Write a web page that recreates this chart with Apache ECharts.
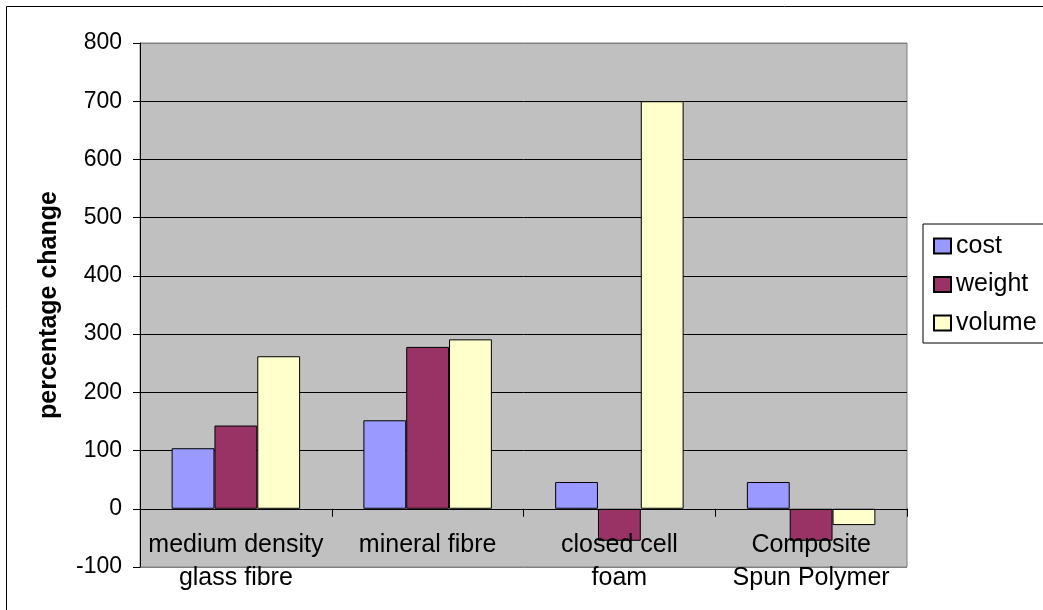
<!DOCTYPE html>
<html>
<head>
<meta charset="utf-8">
<script src="https://cdn.jsdelivr.net/npm/echarts@6/dist/echarts.min.js"></script>
<style>
  html, body { margin: 0; padding: 0; background: #fff; }
  #chart { width: 1043px; height: 610px; }
</style>
</head>
<body>
<div id="chart"></div>
<script>
// Insulation materials compared by percentage change
const categories = ['medium density\nglass fibre', 'mineral fibre', 'closed cell\nfoam', 'Composite\nSpun Polymer'];
const costValues = [104, 152, 46, 46];
const weightValues = [143, 278, -55, -55];
const volumeValues = [262, 291, 700, -28];
const yTicks = { min: -100, max: 800, interval: 100 };

const FONT = 'Liberation Sans, Arial, sans-serif';
const barBorder = { borderColor: '#000', borderWidth: 1 };

// gridline colours: outer edges grey, inner lines black
const gridColours = [];
for (let v = yTicks.min; v <= yTicks.max; v += yTicks.interval) {
  gridColours.push(v === yTicks.min || v === yTicks.max ? '#808080' : '#000');
}

const chart = echarts.init(document.getElementById('chart'), null, { renderer: 'canvas' });
chart.setOption({
  animation: false,
  backgroundColor: '#fff',
  textStyle: { fontFamily: FONT },
  graphic: [{
    type: 'rect',
    shape: { x: 6.5, y: 6.5, width: 1100, height: 700 },
    style: { fill: 'none', stroke: '#000', lineWidth: 1 },
    z: -10
  }],
  grid: {
    left: 140, top: 43, right: 136, bottom: 43,
    containLabel: false,
    outerBoundsMode: 'none',
    show: true, backgroundColor: '#C0C0C0', borderColor: '#808080', borderWidth: 1
  },
  legend: {
    orient: 'vertical',
    left: 923, top: 224,
    padding: [9, 30, 7, 10],
    itemWidth: 17, itemHeight: 15, itemGap: 12.5,
    backgroundColor: '#fff',
    borderColor: '#000', borderWidth: 1, borderRadius: 0,
    icon: 'rect',
    textStyle: { fontFamily: FONT, fontSize: 25, color: '#000', lineHeight: 26 },
    data: ['cost', 'weight', 'volume']
  },
  xAxis: {
    type: 'category',
    data: categories,
    z: 10,
    axisLine: { onZero: true, lineStyle: { color: '#000', width: 1 } },
    axisTick: { show: true, length: 8, lineStyle: { color: '#000' } },
    axisLabel: {
      interval: 0, margin: -38, fontFamily: FONT, fontSize: 25, color: '#000', lineHeight: 33
    },
    splitLine: { show: false }
  },
  yAxis: {
    type: 'value',
    min: yTicks.min, max: yTicks.max, interval: yTicks.interval,
    name: 'percentage change',
    nameLocation: 'middle',
    nameRotate: 90,
    nameGap: 78,
    nameTextStyle: { fontFamily: FONT, fontSize: 25, fontWeight: 'bold', color: '#000' },
    axisLine: { show: true, lineStyle: { color: '#000', width: 1 } },
    axisTick: { show: true, length: 7, lineStyle: { color: '#000' } },
    axisLabel: { margin: 18, fontFamily: FONT, fontSize: 23, color: '#000' },
    splitLine: { show: true, lineStyle: { color: gridColours, width: 1 } }
  },
  series: [
    { name: 'cost', type: 'bar', data: costValues, barGap: '0%', barCategoryGap: '33%',
      itemStyle: Object.assign({ color: '#9999FF' }, barBorder) },
    { name: 'weight', type: 'bar', data: weightValues, barGap: '0%', barCategoryGap: '33%',
      itemStyle: Object.assign({ color: '#993366' }, barBorder) },
    { name: 'volume', type: 'bar', data: volumeValues, barGap: '0%', barCategoryGap: '33%',
      itemStyle: Object.assign({ color: '#FFFFCC' }, barBorder) }
  ]
});
</script>
</body>
</html>
